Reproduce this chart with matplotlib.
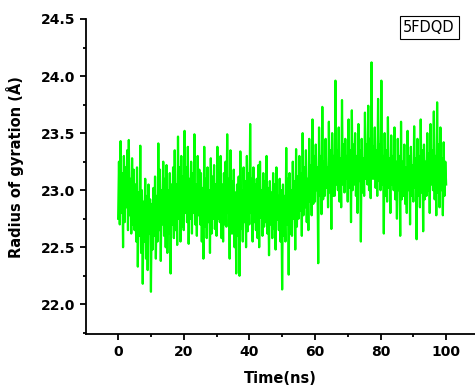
import numpy as np
import matplotlib
matplotlib.use('Agg')
import matplotlib.pyplot as plt
from matplotlib.ticker import MultipleLocator

# radius of gyration, one value every 0.25 ns
rg = [
    22.75, 23.25, 22.70, 23.43, 22.80, 23.15, 22.50, 23.30, 22.72, 23.20, 22.85, 23.35, 22.65, 23.44, 22.78, 23.10, 22.62, 23.28, 22.70, 23.18,
    22.65, 23.05, 22.55, 23.20, 22.33, 22.98, 22.60, 23.39, 22.45, 23.00, 22.18, 22.90, 22.55, 23.10, 22.40, 22.95, 22.30, 23.05, 22.62, 22.92,
    22.11, 22.88, 22.48, 23.02, 22.60, 23.12, 22.40, 22.95, 22.55, 23.41, 22.65, 23.18, 22.38, 23.00, 22.70, 23.25, 22.60, 23.10, 22.50, 23.22,
    22.45, 23.00, 22.62, 23.15, 22.27, 23.05, 22.70, 23.20, 22.58, 23.35, 22.65, 23.05, 22.52, 23.47, 22.75, 23.20, 22.55, 23.30, 22.68, 23.12,
    22.65, 23.52, 22.80, 23.20, 22.72, 23.38, 22.53, 23.10, 22.75, 23.25, 22.62, 23.15, 22.80, 23.49, 22.70, 23.05, 22.60, 23.30, 22.78, 23.18,
    22.70, 23.15, 22.55, 23.02, 22.40, 23.38, 22.68, 23.10, 22.58, 23.20, 22.72, 23.00, 22.45, 23.28, 22.62, 23.12, 22.75, 23.22, 22.66, 23.05,
    22.60, 23.38, 22.75, 23.15, 22.72, 23.30, 22.58, 23.05, 22.55, 23.15, 22.70, 23.25, 22.68, 23.49, 22.80, 23.10, 22.40, 23.35, 22.62, 23.08,
    22.62, 23.18, 22.50, 22.98, 22.27, 23.05, 22.60, 23.12, 22.25, 23.34, 22.66, 23.00, 22.55, 23.20, 22.72, 23.08, 22.50, 23.30, 22.64, 23.15,
    22.70, 23.58, 22.80, 23.10, 22.55, 23.20, 22.72, 23.05, 22.65, 23.10, 22.58, 23.22, 22.50, 23.25, 22.76, 23.00, 22.60, 23.15, 22.68, 23.08,
    22.72, 23.30, 22.62, 23.02, 22.43, 23.08, 22.70, 22.98, 22.58, 23.15, 22.66, 23.05, 22.48, 23.20, 22.74, 22.95, 22.65, 23.10, 22.55, 23.00,
    22.13, 23.05, 22.60, 22.95, 22.55, 23.37, 22.70, 23.10, 22.26, 23.15, 22.62, 23.00, 22.60, 23.25, 22.75, 23.08, 22.48, 23.36, 22.68, 23.12,
    22.75, 23.30, 22.82, 23.15, 22.60, 23.50, 22.78, 23.20, 22.85, 23.35, 22.72, 23.10, 22.65, 23.45, 22.90, 23.22, 22.78, 23.62, 22.88, 23.30,
    22.90, 23.40, 23.00, 23.20, 22.36, 23.55, 22.95, 23.30, 22.79, 23.73, 22.92, 23.25, 22.95, 23.45, 23.02, 23.20, 22.85, 23.60, 22.98, 23.35,
    22.66, 23.50, 22.95, 23.30, 22.95, 23.96, 23.05, 23.35, 23.00, 23.55, 22.90, 23.28, 22.85, 23.79, 23.05, 23.40, 22.98, 23.45, 23.10, 23.30,
    22.90, 23.62, 23.02, 23.35, 22.72, 23.70, 23.00, 23.40, 23.05, 23.50, 22.95, 23.30, 22.80, 23.58, 23.08, 23.35, 22.55, 23.45, 22.98, 23.28,
    22.95, 23.68, 23.10, 23.40, 23.05, 23.74, 23.00, 23.45, 22.93, 24.12, 23.10, 23.38, 23.10, 23.55, 23.02, 23.35, 22.95, 23.80, 23.08, 23.40,
    23.00, 23.96, 23.05, 23.30, 22.62, 23.50, 22.95, 23.35, 22.90, 23.64, 23.02, 23.28, 22.80, 23.48, 23.05, 23.30, 23.00, 23.55, 22.92, 23.25,
    22.75, 23.45, 23.00, 23.30, 22.60, 23.60, 22.92, 23.25, 22.95, 23.40, 22.88, 23.20, 22.80, 23.52, 23.00, 23.30, 22.70, 23.38, 22.95, 23.22,
    22.90, 23.56, 23.02, 23.28, 22.57, 23.45, 22.95, 23.30, 22.85, 23.62, 22.98, 23.35, 22.64, 23.40, 22.92, 23.25, 22.95, 23.50, 23.00, 23.32,
    22.80, 23.58, 23.05, 23.35, 23.00, 23.69, 22.92, 23.30, 22.78, 23.77, 22.98, 23.40, 22.85, 23.55, 23.00, 23.28, 22.78, 23.42, 22.95, 23.25,
    23.05,
]
time = np.arange(len(rg)) * 0.25

fig = plt.figure(figsize=(4.75, 3.92), dpi=100)
ax = fig.add_axes([86/475, 1-334/392, 389/475, 315/392])

ax.plot(time, rg, color='#00ff00', lw=1.6)

ax.set_xlim(-9.8, 108.8)
ax.set_ylim(21.74, 24.5)
ax.xaxis.set_major_locator(MultipleLocator(20))
ax.xaxis.set_minor_locator(MultipleLocator(10))
ax.yaxis.set_major_locator(MultipleLocator(0.5))
ax.yaxis.set_minor_locator(MultipleLocator(0.25))
ax.yaxis.set_major_formatter(plt.FormatStrFormatter('%.1f'))

for s in ['top', 'right']:
    ax.spines[s].set_visible(False)
for s in ['left', 'bottom']:
    ax.spines[s].set_linewidth(1.3)
ax.tick_params(which='major', direction='out', length=4, width=1.3, labelsize=10, pad=4)
ax.tick_params(which='minor', direction='out', length=2.5, width=1.3)
for lab in ax.get_xticklabels() + ax.get_yticklabels():
    lab.set_fontweight('bold')

ax.set_xlabel('Time(ns)', fontsize=10.5, fontweight='bold')
ax.set_ylabel('Radius of gyration (Å)', fontsize=10.5, fontweight='bold')
ax.xaxis.set_label_coords(0.5, -0.118)
ax.yaxis.set_label_coords(-0.16, 0.53)

ax.text(0.882, 0.973, '5FDQD', transform=ax.transAxes, ha='center', va='center',
        fontsize=10.5, clip_on=False,
        bbox=dict(boxstyle='square,pad=0.25', fc='white', ec='black', lw=0.8))

fig.savefig('out.png', dpi=100)
